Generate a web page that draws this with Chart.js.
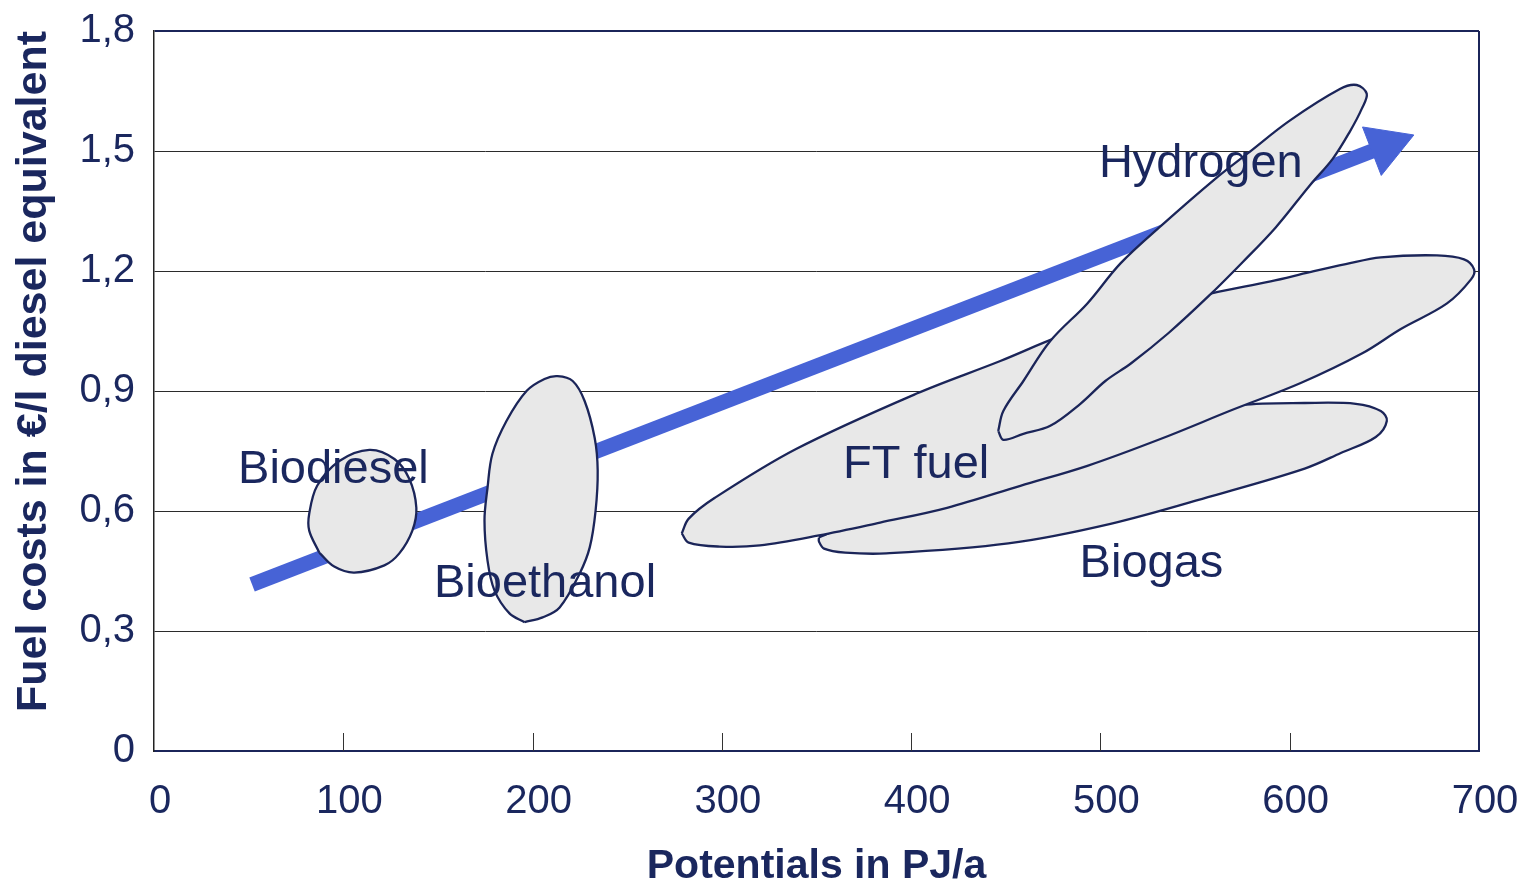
<!DOCTYPE html>
<html>
<head>
<meta charset="utf-8">
<title>Fuel costs vs. potentials</title>
<script src="https://cdn.jsdelivr.net/npm/chart.js@4.4.1/dist/chart.umd.min.js"></script>
<style>
  html, body { margin: 0; padding: 0; background: #ffffff; }
  #wrap { width: 1526px; height: 883px; }
</style>
</head>
<body>
<div id="wrap"><canvas id="chart" width="1526" height="883"></canvas></div>
<script>
// Axis ticks
const xTickValues = [0, 100, 200, 300, 400, 500, 600, 700];
const xTickLabels = ['0', '100', '200', '300', '400', '500', '600', '700'];
const yTickValues = [0, 0.3, 0.6, 0.9, 1.2, 1.5, 1.8];
const yTickLabels = ['0', '0,3', '0,6', '0,9', '1,2', '1,5', '1,8'];

// Outline of each fuel region (potential in PJ/a, cost in €/l)
const biodieselX = [87.3, 82.0, 82.0, 86.2, 97.9, 113.8, 127.0, 134.9, 138.6, 136.5, 129.6, 121.7, 105.8, 95.2];
const biodieselY = [0.496, 0.551, 0.593, 0.663, 0.725, 0.753, 0.730, 0.680, 0.608, 0.551, 0.494, 0.464, 0.446, 0.461];

const bioethanolX = [195.8, 187.8, 179.9, 176.2, 174.6, 176.2, 178.8, 186.2, 196.8, 206.3, 213.2, 221.2, 227.5, 232.8, 234.4, 233.3, 230.2, 224.9, 214.3, 205.3];
const bioethanolY = [0.322, 0.344, 0.401, 0.476, 0.576, 0.658, 0.743, 0.825, 0.900, 0.930, 0.937, 0.925, 0.875, 0.783, 0.701, 0.601, 0.509, 0.444, 0.359, 0.334];

const ftFuelX = [278.8, 282.5, 296.3, 339.2, 402.6, 447.1, 478.8, 515.9, 558.7, 589.9, 610.6, 629.6, 648.1, 677.8, 692.1, 697.4, 695.8, 683.1, 658.7, 638.6, 605.8, 569.8, 531.7, 493.1, 457.7, 419.0, 383.6, 351.3, 320.1, 298.9, 282.5];
const ftFuelY = [0.544, 0.581, 0.633, 0.755, 0.893, 0.975, 1.037, 1.094, 1.144, 1.174, 1.197, 1.217, 1.234, 1.239, 1.229, 1.204, 1.179, 1.119, 1.055, 0.995, 0.920, 0.853, 0.780, 0.713, 0.663, 0.608, 0.571, 0.539, 0.514, 0.511, 0.521];

const hydrogenX = [446.0, 448.7, 459.3, 473.5, 493.1, 510.6, 532.3, 560.8, 578.3, 600.0, 626.5, 635.4, 640.7, 638.1, 631.7, 622.8, 610.6, 592.6, 575.1, 557.1, 536.0, 516.4, 502.6, 489.4, 473.5, 459.3, 448.7];
const hydrogenY = [0.800, 0.850, 0.925, 1.025, 1.119, 1.219, 1.314, 1.431, 1.496, 1.576, 1.655, 1.665, 1.643, 1.606, 1.548, 1.481, 1.414, 1.309, 1.222, 1.137, 1.045, 0.970, 0.925, 0.868, 0.813, 0.793, 0.778];

const biogasX = [351.3, 373.0, 394.2, 447.1, 500.0, 552.9, 574.1, 607.9, 634.9, 648.1, 651.3, 645.5, 627.0, 607.9, 559.3, 505.3, 451.3, 386.8, 365.1, 354.0, 351.3];
const biogasY = [0.534, 0.579, 0.613, 0.681, 0.763, 0.845, 0.865, 0.870, 0.868, 0.850, 0.825, 0.785, 0.745, 0.706, 0.638, 0.568, 0.519, 0.494, 0.496, 0.506, 0.524];

// Trend arrow: tail and head centre
const trendX = [51.8, 650.8];
const trendY = [0.416, 1.513];

// Region names and where they are written (left end, baseline)
const labelNames = ['Biodiesel', 'Bioethanol', 'FT fuel', 'Hydrogen', 'Biogas'];
const labelX = [44.4, 147.9, 364.0, 499.2, 489.0];
const labelY = [0.671, 0.384, 0.683, 1.436, 0.434];

const FONT = "'Liberation Sans', Arial, Helvetica, sans-serif";
const TEXT = '#1a275e';
const OUTLINE = '#1b2559';
const FILL = '#e8e8e8';
const ARROW = '#4763d6';

function closedPoints(xs, ys) {
  const pts = xs.map((x, i) => ({ x: x, y: ys[i] }));
  pts.push({ x: xs[0], y: ys[0] });
  return pts;
}

function region(label, xs, ys, order) {
  return {
    label: label,
    data: closedPoints(xs, ys),
    showLine: true,
    fill: 'shape',
    backgroundColor: FILL,
    borderColor: OUTLINE,
    borderWidth: 2.3,
    borderJoinStyle: 'round',
    tension: 0.35,
    pointRadius: 0,
    pointHoverRadius: 0,
    order: order
  };
}

// Axis boxes get a fixed size and no extra edge padding, so the plot
// area is set by the layout padding alone
function fixBox(size, key) {
  return (s) => {
    s[key] = size;
    s.paddingTop = 0; s.paddingBottom = 0;
    s.paddingLeft = 0; s.paddingRight = 0;
  };
}

// Short tick marks standing up from the x axis inside the plot
const innerTicks = {
  id: 'innerTicks',
  beforeDatasetsDraw(chart) {
    const { ctx, chartArea, scales } = chart;
    ctx.save();
    ctx.strokeStyle = '#333333';
    ctx.lineWidth = 1;
    ctx.beginPath();
    xTickValues.forEach(v => {
      if (v === xTickValues[0] || v === xTickValues[xTickValues.length - 1]) return;
      const px = Math.round(scales.x.getPixelForValue(v)) + 0.5;
      ctx.moveTo(px, chartArea.bottom - 18);
      ctx.lineTo(px, chartArea.bottom);
    });
    ctx.stroke();
    ctx.restore();
  }
};

// Region names written over the shapes
const regionLabels = {
  id: 'regionLabels',
  afterDatasetsDraw(chart) {
    const { ctx, scales } = chart;
    ctx.save();
    ctx.font = '47px ' + FONT;
    ctx.fillStyle = TEXT;
    ctx.textAlign = 'left';
    ctx.textBaseline = 'alphabetic';
    labelNames.forEach((name, i) => {
      ctx.fillText(name, scales.x.getPixelForValue(labelX[i]), scales.y.getPixelForValue(labelY[i]));
    });
    ctx.restore();
  }
};

const yMax = yTickValues[yTickValues.length - 1];
const xMax = xTickValues[xTickValues.length - 1];

new Chart(document.getElementById('chart'), {
  type: 'scatter',
  data: {
    datasets: [
      {
        label: 'Trend',
        data: trendX.map((x, i) => ({ x: x, y: trendY[i] })),
        showLine: true,
        borderColor: ARROW,
        borderWidth: 15,
        borderCapStyle: 'butt',
        fill: false,
        pointStyle: 'triangle',
        pointRadius: [0, 30],
        pointHoverRadius: [0, 30],
        pointBackgroundColor: ARROW,
        pointBorderColor: ARROW,
        pointBorderWidth: 1,
        pointRotation: (c) => {
          const chart = c.chart;
          const sx = chart.scales.x, sy = chart.scales.y;
          if (!sx || !sy) return 0;
          const dx = sx.getPixelForValue(trendX[1]) - sx.getPixelForValue(trendX[0]);
          const dy = sy.getPixelForValue(trendY[1]) - sy.getPixelForValue(trendY[0]);
          return Math.atan2(dy, dx) * 180 / Math.PI + 90;
        },
        order: 10
      },
      region('Biogas', biogasX, biogasY, 6),
      region('FT fuel', ftFuelX, ftFuelY, 5),
      region('Hydrogen', hydrogenX, hydrogenY, 4),
      region('Biodiesel', biodieselX, biodieselY, 3),
      region('Bioethanol', bioethanolX, bioethanolY, 2)
    ]
  },
  options: {
    responsive: false,
    animation: false,
    events: [],
    devicePixelRatio: 1,
    layout: { padding: { top: 29, right: 47, left: 0, bottom: 0 } },
    plugins: {
      legend: { display: false },
      tooltip: { enabled: false }
    },
    scales: {
      x: {
        type: 'linear',
        min: xTickValues[0],
        max: xMax,
        afterBuildTicks: (s) => { s.ticks = xTickValues.map(v => ({ value: v })); },
        afterFit: fixBox(132, 'height'),
        ticks: {
          color: TEXT,
          font: { family: FONT, size: 40 },
          padding: 27,
          labelOffset: 6,
          maxRotation: 0,
          autoSkip: false,
          callback: (v, i) => xTickLabels[i]
        },
        grid: {
          drawTicks: false,
          color: (c) => (c.tick && c.tick.value === xMax) ? OUTLINE : 'rgba(0,0,0,0)',
          lineWidth: (c) => (c.tick && c.tick.value === xMax) ? 2 : 1
        },
        border: { display: true, color: OUTLINE, width: 2 },
        title: {
          display: true,
          text: 'Potentials in PJ/a',
          color: TEXT,
          font: { family: FONT, size: 41, weight: 'bold', lineHeight: 0.8 },
          padding: { top: 0, bottom: 0 }
        }
      },
      y: {
        type: 'linear',
        min: yTickValues[0],
        max: yMax,
        afterBuildTicks: (s) => { s.ticks = yTickValues.map(v => ({ value: v })); },
        afterFit: fixBox(154, 'width'),
        ticks: {
          color: TEXT,
          font: { family: FONT, size: 40 },
          padding: 19,
          autoSkip: false,
          callback: (v, i) => yTickLabels[i]
        },
        grid: {
          drawTicks: false,
          color: (c) => (c.tick && Math.abs(c.tick.value - yMax) < 1e-9) ? OUTLINE : '#2b2b2b',
          lineWidth: (c) => (c.tick && Math.abs(c.tick.value - yMax) < 1e-9) ? 2 : 1
        },
        border: { display: true, color: '#222222', width: 1.5 },
        title: {
          display: true,
          text: 'Fuel costs in €/l diesel equivalent',
          align: 'end',
          color: TEXT,
          font: { family: FONT, size: 43, weight: 'bold', lineHeight: 0.8 },
          padding: { top: 17, bottom: 0 }
        }
      }
    }
  },
  plugins: [innerTicks, regionLabels]
});
</script>
</body>
</html>
